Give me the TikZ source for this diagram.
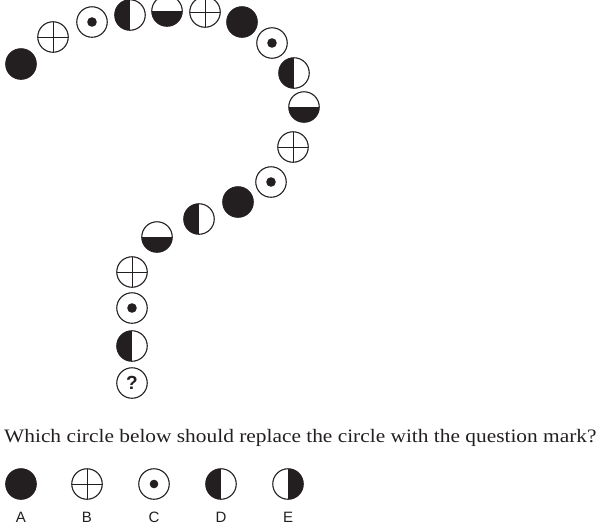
\documentclass[tikz,border=0pt]{standalone}
\usepackage{fontspec}
\usepackage{graphicx}
\setmainfont{Liberation Serif}
\newfontfamily\labfont{Liberation Sans}
\definecolor{ink}{RGB}{35,31,32}
\begin{document}
\begin{tikzpicture}[x=1pt,y=-1pt,
  ring/.style={circle, draw=ink, line width=1.1pt, minimum size=30.5pt, inner sep=0pt},
  full/.style={ring, fill=ink},
  crossc/.style={ring, path picture={\draw[ink, line width=0.9pt]
      (path picture bounding box.north) -- (path picture bounding box.south)
      (path picture bounding box.west) -- (path picture bounding box.east);}},
  dotc/.style={ring, path picture={\fill[ink] (path picture bounding box.center) circle (4.8pt);}},
  halfl/.style={ring, path picture={\fill[ink] (path picture bounding box.south west) rectangle (path picture bounding box.north);}},
  halfr/.style={ring, path picture={\fill[ink] (path picture bounding box.south east) rectangle (path picture bounding box.north);}},
  halfb/.style={ring, path picture={\fill[ink] (path picture bounding box.south west) rectangle (path picture bounding box.east);}},
  qmark/.style={ring, font=\labfont\bfseries\fontsize{19}{19}\selectfont, text=ink},
  lab/.style={font=\labfont\fontsize{15}{15}\selectfont, text=ink},
]
\useasboundingbox (0,0) rectangle (602,531);
% spiral
\node[full]   (c1)  at (21,64)  {};
\node[crossc] (c2)  at (53,37)  {};
\node[dotc]   (c3)  at (92,22)  {};
\node[halfl]  (c4)  at (130,15) {};
\node[halfb]  (c5)  at (167,11) {};
\node[crossc] (c6)  at (205,12) {};
\node[full]   (c7)  at (242,22) {};
\node[dotc]   (c8)  at (272,43) {};
\node[halfl]  (c9)  at (294,73) {};
\node[halfb]  (c10) at (304,107) {};
\node[crossc] (c11) at (293,147) {};
\node[dotc]   (c12) at (271,182) {};
\node[full]   (c13) at (238,202) {};
\node[halfl]  (c14) at (199,219) {};
\node[halfb]  (c15) at (157,237) {};
\node[crossc] (c16) at (132,272) {};
\node[dotc]   (c17) at (132,308) {};
\node[halfl]  (c18) at (132,346) {};
\node[qmark]  (c19) at (132,383) {?};
% question
\node[anchor=base west, inner sep=0pt, text=ink, font=\fontsize{19}{22}\selectfont] (q) at (4,442)
  {\scalebox{1.125}[1]{Which circle below should replace the circle with the question mark?}};
% answers
\node[full]   (a) at (21,484)  {};
\node[crossc] (b) at (87,484)  {};
\node[dotc, path picture={\fill[ink] (path picture bounding box.center) circle (4.3pt);}] (c) at (154,484) {};
\node[halfl]  (d) at (221,484) {};
\node[halfr]  (e) at (288,484) {};
\node[lab] (la) at (21,517)  {A};
\node[lab] (lb) at (87,517)  {B};
\node[lab] (lc) at (154,517) {C};
\node[lab] (ld) at (221,517) {D};
\node[lab] (le) at (288,517) {E};
\end{tikzpicture}
\end{document}
